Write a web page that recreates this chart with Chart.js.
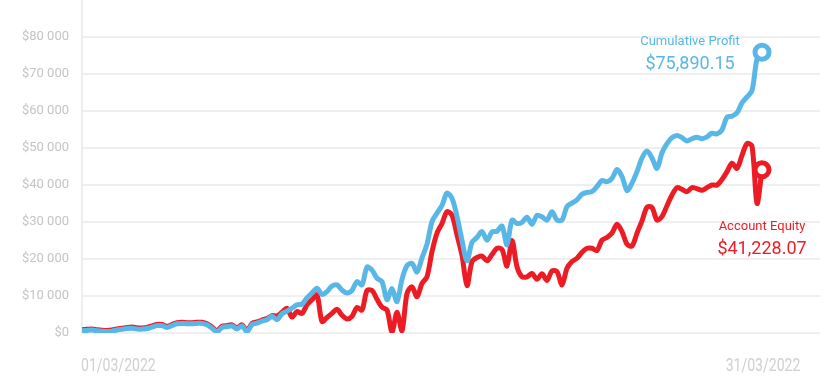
<!DOCTYPE html>
<html>
<head>
<meta charset="utf-8">
<script src="https://cdn.jsdelivr.net/npm/chart.js@4.4.1/dist/chart.umd.min.js"></script>
<style>
  html, body { margin: 0; padding: 0; background: #fff; }
  #wrap { width: 840px; height: 383px; }
</style>
</head>
<body>
<div id="wrap"><canvas id="myChart"></canvas></div>
<script>
// trade number along the month
const trades = Array.from({ length: 137 }, (_, i) => i);

const dateLabels = ['01/03/2022', '31/03/2022'];
const yTicks = [0, 10000, 20000, 30000, 40000, 50000, 60000, 70000, 80000];

const cumulativeProfit = [
  600, 700, 800, 600, 450, 400, 500, 800, 1000, 1200,
  1300, 1100, 1050, 1200, 1600, 2000, 2000, 1500, 2000, 2500,
  2600, 2500, 2500, 2600, 2600, 2200, 1300, 350, 1500, 1700,
  1900, 1100, 1900, 350, 2300, 2700, 3200, 3600, 4500, 3600,
  5200, 5900, 6700, 7600, 7800, 9500, 10800, 12100, 10400, 11200,
  12700, 13000, 11600, 10800, 11500, 13900, 13000, 17800, 17000, 14800,
  13900, 9000, 12000, 8500, 14500, 18200, 18800, 16500, 20300, 24000,
  30100, 32400, 34500, 37800, 36400, 31500, 25000, 19500, 24500, 25800,
  27400, 25100, 27300, 27500, 28900, 23800, 30500, 29600, 29900, 31300,
  29400, 31800, 31400, 30500, 32800, 30500, 30500, 34200, 35100, 36000,
  37500, 38000, 38200, 39600, 41200, 40900, 41800, 44200, 42300, 38500,
  40500, 43600, 47300, 49200, 47300, 44500, 48700, 51200, 52800, 53400,
  52800, 51900, 52500, 52900, 52500, 53000, 54000, 53800, 54900, 58300,
  58600, 59500, 62200, 63800, 65500, 74000, 75890.15
];

const accountEquity = [
  900, 1000, 1100, 900, 750, 700, 800, 1100, 1300, 1500,
  1600, 1400, 1350, 1500, 1900, 2300, 2300, 1800, 2300, 2800,
  2900, 2800, 2800, 2900, 2900, 2500, 1600, 650, 1800, 2000,
  2200, 1400, 2200, 650, 2600, 3000, 3500, 3900, 4700, 4600,
  5600, 6700, 4300, 5800, 5300, 7600, 9000, 10300, 3100, 4200,
  5300, 6400, 4800, 3800, 4500, 6900, 6200, 11500, 11500, 9100,
  7000, 6200, 300, 5600, 600, 10700, 12500, 9800, 13400, 15200,
  22000, 27000, 29600, 32800, 31800, 26500, 21000, 12800, 19300, 20400,
  20800, 19500, 21200, 22900, 22600, 18100, 25000, 17900, 15200, 15200,
  16100, 14500, 16000, 14200, 16800, 16600, 13000, 17500, 19300, 20200,
  21800, 22900, 22900, 22300, 25100, 25800, 27000, 29400, 27400, 24000,
  23500, 27000, 30300, 34000, 33900, 30500, 31500, 34400, 37300, 39300,
  38800, 38200, 39300, 39000, 38600, 39300, 40000, 40000, 41500, 43600,
  45900, 44500, 48000, 51200, 50500, 35000, 44100
];

const profitText = ['Cumulative Profit', '$75,890.15'];
const equityText = ['Account Equity', '$41,228.07'];

const BLUE = '#58b7e6';
const RED = '#ed1c24';

function spaced(v) {
  return v.toString().replace(/\B(?=(\d{3})+(?!\d))/g, ' ');
}

// last-value labels and the two date labels under the plot
const endLabels = {
  id: 'endLabels',
  afterDatasetsDraw(chart) {
    const { ctx, chartArea, scales } = chart;
    const last = trades.length - 1;
    const xLast = scales.x.getPixelForValue(last);
    const yProfit = scales.y.getPixelForValue(cumulativeProfit[last]);
    const yEquity = scales.y.getPixelForValue(accountEquity[last]);

    ctx.save();
    ctx.textAlign = 'center';
    ctx.textBaseline = 'middle';

    ctx.fillStyle = BLUE;
    ctx.font = '13px Roboto';
    ctx.fillText(profitText[0], xLast - 72, yProfit - 10);
    ctx.font = '18px Roboto';
    ctx.fillText(profitText[1], xLast - 72, yProfit + 12);

    ctx.fillStyle = RED;
    ctx.font = '13px Roboto';
    ctx.fillText(equityText[0], xLast, yEquity + 57);
    ctx.font = '18px Roboto';
    ctx.fillText(equityText[1], xLast, yEquity + 80);

    // dates, narrow face
    ctx.fillStyle = '#cfcfcf';
    ctx.font = '18px Roboto';
    ctx.textBaseline = 'alphabetic';
    const yDate = chartArea.bottom + 38;
    ctx.save();
    ctx.translate(chartArea.left - 1, yDate);
    ctx.scale(0.78, 1);
    ctx.textAlign = 'left';
    ctx.fillText(dateLabels[0], 0, 0);
    ctx.restore();
    ctx.save();
    ctx.translate(xLast + 1, yDate);
    ctx.scale(0.78, 1);
    ctx.textAlign = 'center';
    ctx.fillText(dateLabels[1], 0, 0);
    ctx.restore();

    ctx.restore();
  }
};

function lastPoint(r) {
  return ctx => ctx.dataIndex === trades.length - 1 ? r : 0;
}

const ctx = document.getElementById('myChart');

new Chart(ctx, {
  type: 'line',
  data: {
    labels: trades,
    datasets: [
      {
        label: 'Cumulative Profit',
        data: cumulativeProfit,
        borderColor: BLUE,
        borderWidth: 5,
        tension: 0.3,
        borderJoinStyle: 'round',
        borderCapStyle: 'round',
        pointRadius: lastPoint(7),
        pointHoverRadius: lastPoint(7),
        pointBackgroundColor: '#fff',
        pointBorderColor: BLUE,
        pointBorderWidth: 5,
        fill: false
      },
      {
        label: 'Account Equity',
        data: accountEquity,
        borderColor: RED,
        borderWidth: 5,
        tension: 0.3,
        borderJoinStyle: 'round',
        borderCapStyle: 'round',
        pointRadius: lastPoint(7),
        pointHoverRadius: lastPoint(7),
        pointBackgroundColor: '#fff',
        pointBorderColor: RED,
        pointBorderWidth: 5,
        fill: false
      }
    ]
  },
  options: {
    responsive: true,
    maintainAspectRatio: false,
    animation: false,
    layout: {
      autoPadding: false,
      padding: { top: 0, right: 20, bottom: 50, left: 0 }
    },
    plugins: {
      legend: { display: false },
      tooltip: { enabled: false }
    },
    scales: {
      x: {
        type: 'linear',
        display: false,
        min: 0,
        max: 147.6
      },
      y: {
        min: 0,
        max: 90000,
        afterBuildTicks: s => { s.ticks = yTicks.map(v => ({ value: v })); },
        afterFit: s => {
          s.width = 82;
          s.paddingTop = 0;
          s.paddingBottom = 0;
        },
        border: { display: true, color: '#eeeeee', width: 2 },
        grid: { color: '#efefef', lineWidth: 2, drawTicks: false },
        ticks: {
          padding: 13,
          color: '#c4c4c4',
          font: { family: 'Roboto', size: 13 },
          callback: v => '$' + spaced(v)
        }
      }
    }
  },
  plugins: [endLabels]
});
</script>
</body>
</html>
